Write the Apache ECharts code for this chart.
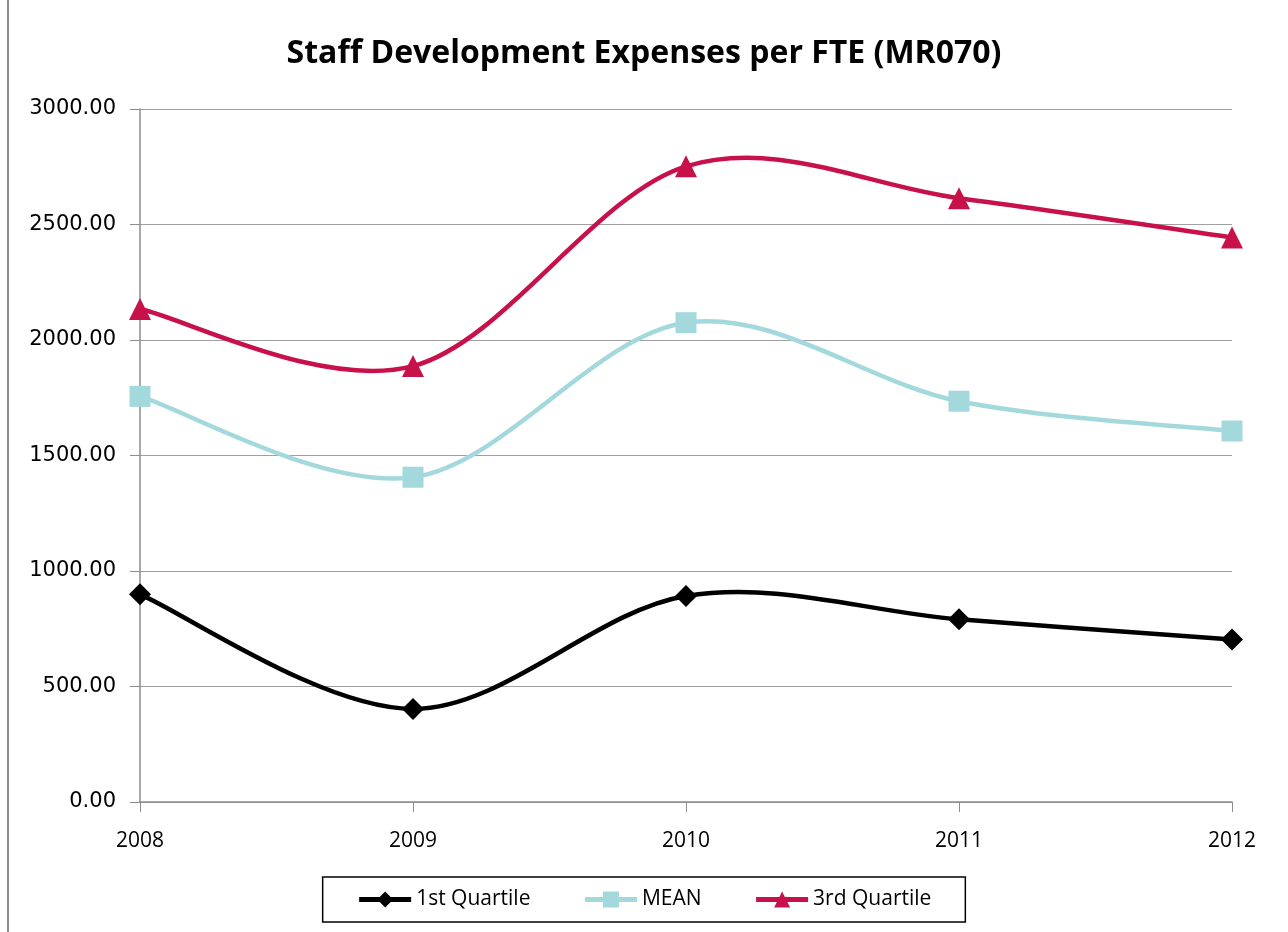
<!DOCTYPE html>
<html>
<head>
<meta charset="utf-8">
<script src="https://cdn.jsdelivr.net/npm/echarts@6/dist/echarts.min.js"></script>
<style>
  html, body { margin: 0; padding: 0; background: #fff; }
  #chart { width: 1288px; height: 932px; }
</style>
</head>
<body>
<div id="chart"></div>
<script>
// chart data
var years = ['2008', '2009', '2010', '2011', '2012'];
var firstQuartile = [899, 403, 892, 791, 703];
var meanValues = [1756, 1406, 2075, 1735, 1606];
var thirdQuartile = [2134, 1887, 2752, 2614, 2444];
var seriesNames = ['1st Quartile', 'MEAN', '3rd Quartile'];
var colors = ['#000000', '#a3d9dc', '#c8104b'];

var chart = echarts.init(document.getElementById('chart'));

// excel style smoothed curve, drawn through the axis coords
function curveSeries(name, data, color) {
    return {
        name: name + ' curve',
        type: 'custom',
        z: 1,
        silent: true,
        data: data.map(function (v, i) { return [i, v]; }),
        renderItem: function (params, api) {
            if (params.dataIndex !== 0) return;
            var pts = data.map(function (v, i) { return api.coord([i, v]); });
            var d = 'M' + pts[0][0] + ' ' + pts[0][1];
            for (var i = 0; i < pts.length - 1; i++) {
                var p0 = pts[i - 1] || pts[i];
                var p1 = pts[i];
                var p2 = pts[i + 1];
                var p3 = pts[i + 2] || pts[i + 1];
                var c1x = p1[0] + (p2[0] - p0[0]) / 6;
                var c1y = p1[1] + (p2[1] - p0[1]) / 6;
                var c2x = p2[0] - (p3[0] - p1[0]) / 6;
                var c2y = p2[1] - (p3[1] - p1[1]) / 6;
                d += ' C' + c1x + ' ' + c1y + ' ' + c2x + ' ' + c2y + ' ' + p2[0] + ' ' + p2[1];
            }
            return {
                type: 'path',
                shape: { pathData: d },
                style: { fill: 'none', stroke: color, lineWidth: 4.5 }
            };
        }
    };
}

function markerSeries(name, data, color, symbol, size) {
    return {
        name: name,
        type: 'line',
        z: 3,
        data: data,
        symbol: symbol,
        symbolSize: size,
        lineStyle: { color: color, width: 0, opacity: 0 },
        itemStyle: { color: color },
        emphasis: { disabled: true }
    };
}

chart.setOption({
    animation: false,
    title: {
        text: 'Staff Development Expenses per FTE (MR070)',
        left: 'center',
        top: 33,
        textStyle: { fontFamily: 'Open Sans', fontSize: 32, fontWeight: 'bold', color: '#000' }
    },
    grid: { left: 140, right: 56, top: 109, bottom: 130 },
    legend: {
        data: seriesNames.map(function (n, i) {
            return { name: n, lineStyle: { color: colors[i], width: 5, opacity: 1 } };
        }),
        bottom: 10,
        left: 'center',
        itemWidth: 52,
        itemHeight: 20,
        itemGap: 52,
        padding: [12, 34, 12, 34],
        borderColor: '#000',
        borderWidth: 1.5,
        textStyle: { fontFamily: 'Open Sans', fontSize: 21, color: '#000' }
    },
    xAxis: {
        type: 'category',
        data: years,
        boundaryGap: false,
        axisLine: { lineStyle: { color: '#8c8c8c', width: 1.5 } },
        axisTick: { length: 10, lineStyle: { color: '#8c8c8c' } },
        axisLabel: { margin: 29, fontFamily: 'Open Sans', fontSize: 21, color: '#000' },
        splitLine: { show: false }
    },
    yAxis: {
        type: 'value',
        min: 0,
        max: 3000,
        interval: 500,
        axisLine: { show: true, lineStyle: { color: '#8c8c8c', width: 1.5 } },
        axisTick: { show: true, inside: false, length: 10, lineStyle: { color: '#8c8c8c' } },
        axisLabel: {
            margin: 24,
            fontFamily: 'DejaVu Sans',
            fontSize: 21,
            color: '#000',
            formatter: function (v) { return v.toFixed(2); }
        },
        splitLine: { lineStyle: { color: '#a0a0a0', width: 1.2 } }
    },
    graphic: [{
        type: 'rect',
        shape: { x: 8, y: -4, width: 1290, height: 950 },
        style: { fill: 'none', stroke: '#8c8c8c', lineWidth: 2 },
        silent: true
    }],
    series: [
        curveSeries(seriesNames[0], firstQuartile, colors[0]),
        curveSeries(seriesNames[1], meanValues, colors[1]),
        curveSeries(seriesNames[2], thirdQuartile, colors[2]),
        markerSeries(seriesNames[0], firstQuartile, colors[0], 'diamond', 22),
        markerSeries(seriesNames[1], meanValues, colors[1], 'rect', 21),
        markerSeries(seriesNames[2], thirdQuartile, colors[2], 'triangle', 22)
    ]
});
</script>
</body>
</html>
